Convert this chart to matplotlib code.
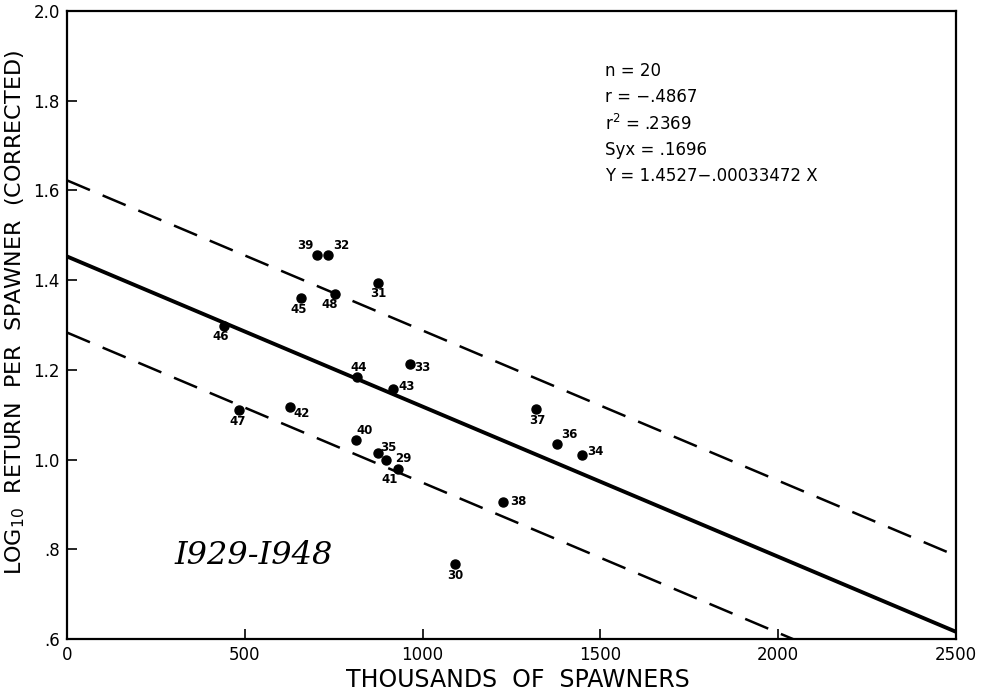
import numpy as np
import matplotlib.pyplot as plt

# spawners (thousands), log10 return per spawner, year labels
spawners = [702, 735, 875, 658, 754, 816, 964, 917, 628, 814,
            874, 897, 931, 1318, 1378, 1449, 1227, 441, 484, 1090]
log_return = [1.455, 1.455, 1.394, 1.359, 1.370, 1.183, 1.213, 1.157, 1.118, 1.043,
              1.014, 0.999, 0.978, 1.112, 1.035, 1.009, 0.906, 1.298, 1.111, 0.767]
years = ['39', '32', '31', '45', '48', '44', '33', '43', '42', '40',
         '35', '29', '41', '37', '36', '34', '38', '46', '47', '30']
# label offsets (pixels) from each point
offsets = [(-11, 10), (13, 10), (0, -11), (-2, -11), (-5, -11), (2, 10), (13, -4),
           (14, 3), (11, -7), (8, 10), (11, 6), (17, 1), (-8, -10), (2, -11),
           (12, 9), (13, 4), (15, 0), (-3, -11), (-1, -12), (1, -11)]

# regression from the chart
a = 1.4527
b = -0.00033472
syx = 0.1696
stats = ['n = 20', 'r = \u2212.4867', 'r$^2$ = .2369', 'Syx = .1696', 'Y = 1.4527\u2212.00033472 X']

plt.rcParams['font.family'] = 'DejaVu Sans'
fig = plt.figure(figsize=(9.84, 6.94), dpi=100)
ax = fig.add_axes([0.068, 0.0793, 0.9036, 0.905])

xs = np.array([0, 2500])
ax.plot(xs, a + b * xs, color='black', lw=2.8, solid_capstyle='butt')
ax.plot(xs, a + syx + b * xs, color='black', lw=1.8, dashes=(10, 5.5))
ax.plot(xs, a - syx + b * xs, color='black', lw=1.8, dashes=(10, 5.5))

ax.plot(spawners, log_return, 'o', color='black', ms=6.5, zorder=3)
for x, y, t, off in zip(spawners, log_return, years, offsets):
    ax.annotate(t, (x, y), xytext=off, textcoords='offset pixels',
                ha='center', va='center', fontsize=8.5, fontweight='bold')

for i, s in enumerate(stats):
    ax.text(0.605, 0.9045 - i * 0.042, s, transform=ax.transAxes, fontsize=12,
            ha='left', va='center')

ax.text(526, 0.785, 'I929-I948', fontsize=23, family='DejaVu Serif',
        style='italic', ha='center', va='center')

ax.set_xlim(0, 2500)
ax.set_ylim(0.6, 2.0)
ax.set_xticks([0, 500, 1000, 1500, 2000, 2500])
ax.set_xticklabels(['0', '500', '1000', '1500', '2000', '2500'], fontsize=12)
ax.set_yticks([0.6, 0.8, 1.0, 1.2, 1.4, 1.6, 1.8, 2.0])
ax.set_yticklabels(['.6', '.8', '1.0', '1.2', '1.4', '1.6', '1.8', '2.0'], fontsize=12)
ax.tick_params(direction='in', length=7, width=1.2, pad=5)
for sp in ax.spines.values():
    sp.set_linewidth(1.6)

ax.set_xlabel('THOUSANDS  OF  SPAWNERS', fontsize=17)
ax.set_ylabel('LOG$_{10}$  RETURN  PER  SPAWNER  (CORRECTED)', fontsize=16)
ax.xaxis.set_label_coords(0.507, -0.046)
ax.yaxis.set_label_coords(-0.045, 0.52)

fig.savefig('out.png', dpi=100)
